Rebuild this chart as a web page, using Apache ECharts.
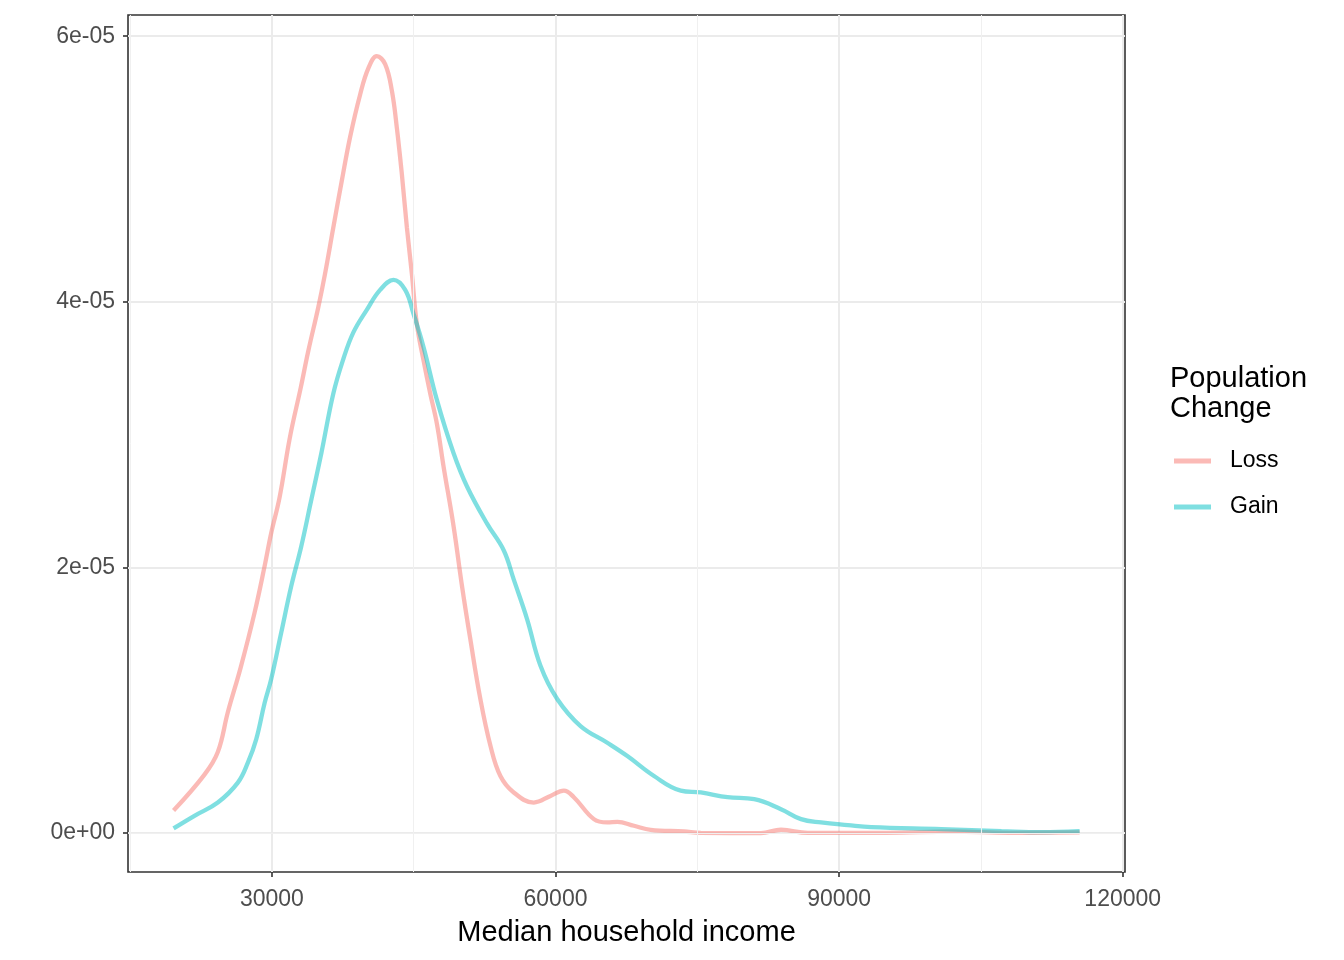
<!DOCTYPE html>
<html>
<head>
<meta charset="utf-8">
<script src="https://cdn.jsdelivr.net/npm/echarts@6/dist/echarts.min.js"></script>
<style>
html,body{margin:0;padding:0;background:#fff;}
#chart{width:1344px;height:960px;}
</style>
</head>
<body>
<div id="chart"></div>
<script>
// Median household income values (x) and density estimates (y)
var lossX = [19600,22870,24280,25340,26710,28170,29230,29930,30820,31906,33070,33850,34910,35620,36500,37390,38270,39330,40210,41100,41980,42690,43220,43750,44280,44810,45340,46040,46750,47460,48160,49220,50110,50990,52050,53110,54170,55580,57700,59470,60880,61940,64060,65480,66540,68300,70070,73570,75370,81730,83850,86680,95000,102000,108000,115440];
var lossY = [1.7e-6,4.4e-6,6.1e-6,9.1e-6,12.5e-6,16.6e-6,20.1e-6,22.6e-6,25.3e-6,29.8e-6,33.6e-6,36.3e-6,39.6e-6,42.1e-6,45.6e-6,49.1e-6,52.4e-6,55.6e-6,57.6e-6,58.5e-6,57.9e-6,55.9e-6,53.1e-6,49.6e-6,45.6e-6,42.1e-6,38.3e-6,35.6e-6,33.1e-6,30.8e-6,27.6e-6,23.1e-6,18.6e-6,14.6e-6,10.1e-6,6.6e-6,4.3e-6,3.06e-6,2.3e-6,2.8e-6,3.2e-6,2.7e-6,1.05e-6,0.8e-6,0.85e-6,0.55e-6,0.25e-6,0.12e-6,0.02e-6,0.0,0.25e-6,0.02e-6,0.02e-6,0.12e-6,0.02e-6,0.05e-6];
var gainX = [19600,21810,24280,26400,27460,28340,29230,29930,30990,32050,33110,34170,35230,36500,37560,38620,40040,41450,42860,44100,44980,46040,47460,49220,50640,52760,54520,55580,57000,58410,60180,62650,65480,67600,70420,73250,75370,78200,81020,83850,85970,88090,90920,93390,100810,107170,111410,115440];
var gainY = [0.35e-6,1.3e-6,2.3e-6,3.8e-6,5.3e-6,7.06e-6,9.8e-6,11.6e-6,15.1e-6,18.6e-6,21.6e-6,25.1e-6,28.6e-6,33.1e-6,35.7e-6,37.7e-6,39.4e-6,40.9e-6,41.65e-6,40.9e-6,39.1e-6,36.6e-6,32.6e-6,28.6e-6,26.1e-6,23.3e-6,21.3e-6,19.1e-6,16.1e-6,12.6e-6,10.1e-6,8.06e-6,6.8e-6,5.8e-6,4.3e-6,3.2e-6,3.06e-6,2.7e-6,2.55e-6,1.8e-6,1.05e-6,0.8e-6,0.6e-6,0.45e-6,0.3e-6,0.15e-6,0.07e-6,0.15e-6];

var xTicks = [30000, 60000, 90000, 120000];
var xTickLabels = ['30000', '60000', '90000', '120000'];
var xMinor = [15000, 45000, 75000, 105000];
var yTicks = [0, 2e-5, 4e-5, 6e-5];
var yTickLabels = ['0e+00', '2e-05', '4e-05', '6e-05'];
var yMinor = [1e-5, 3e-5, 5e-5];

var seriesNames = ['Loss', 'Gain'];
var legendTitle = 'Population\nChange';
var xTitle = 'Median household income';

function pairs(xs, ys) {
  var out = [];
  for (var i = 0; i < xs.length; i++) out.push([xs[i], ys[i]]);
  return out;
}
function labelFor(ticks, labels, v) {
  for (var i = 0; i < ticks.length; i++) {
    if (Math.abs(ticks[i] - v) <= Math.abs(ticks[ticks.length - 1]) * 1e-6) return labels[i];
  }
  return '';
}

var lossColor = 'rgba(248,118,109,0.5)';
var gainColor = 'rgba(0,191,196,0.5)';
var FONT = 'Liberation Sans, Arial, sans-serif';

var minorLines = [];
xMinor.forEach(function (v) { minorLines.push({ xAxis: v }); });
yMinor.forEach(function (v) { minorLines.push({ yAxis: v }); });

var chart = echarts.init(document.getElementById('chart'), null, { renderer: 'canvas' });
chart.setOption({
  animation: false,
  backgroundColor: '#ffffff',
  title: {
    text: legendTitle,
    left: 1170,
    top: 364,
    padding: 0,
    textStyle: { fontFamily: FONT, fontSize: 29, fontWeight: 'normal', color: '#000', lineHeight: 30 }
  },
  legend: {
    orient: 'vertical',
    left: 1174,
    top: 448,
    padding: 0,
    itemWidth: 37,
    itemHeight: 5,
    itemGap: 20,
    icon: 'rect',
    data: seriesNames,
    textStyle: { fontFamily: FONT, fontSize: 23, color: '#000', lineHeight: 26, padding: [0, 0, 0, 14] }
  },
  grid: {
    left: 128, right: 219, top: 15, bottom: 88,
    show: true, borderColor: '#333333', borderWidth: 1.6, backgroundColor: 'transparent',
    containLabel: false
  },
  xAxis: {
    type: 'value',
    min: 14780, max: 120240,
    name: xTitle,
    nameLocation: 'middle',
    nameGap: 46,
    nameTextStyle: { fontFamily: FONT, fontSize: 29, color: '#000' },
    axisLine: { show: false, onZero: false },
    axisTick: { show: true, inside: false, customValues: xTicks, length: 5, lineStyle: { color: '#333', width: 1.6 } },
    axisLabel: {
      customValues: xTicks, margin: 16,
      fontFamily: FONT, fontSize: 23, color: '#4D4D4D',
      formatter: function (v) { return labelFor(xTicks, xTickLabels, v); }
    },
    splitLine: { show: true, lineStyle: { color: '#EBEBEB', width: 2 } }
  },
  yAxis: {
    type: 'value',
    min: -2.93e-6, max: 6.16e-5,
    axisLine: { show: false, onZero: false },
    axisTick: { show: true, inside: false, customValues: yTicks, length: 5, lineStyle: { color: '#333', width: 1.6 } },
    axisLabel: {
      customValues: yTicks, margin: 13,
      fontFamily: FONT, fontSize: 23, color: '#4D4D4D',
      formatter: function (v) { return labelFor(yTicks, yTickLabels, v); }
    },
    splitLine: { show: true, lineStyle: { color: '#EBEBEB', width: 2 } }
  },
  series: [
    {
      name: '__minor',
      type: 'line',
      data: [],
      z: 1,
      silent: true,
      markLine: {
        silent: true,
        symbol: 'none',
        label: { show: false },
        lineStyle: { color: '#F0F0F0', width: 1, type: 'solid' },
        emphasis: { disabled: true },
        data: minorLines
      }
    },
    {
      name: seriesNames[0],
      type: 'line',
      data: pairs(lossX, lossY),
      showSymbol: false,
      smooth: 0.4,
      z: 3,
      itemStyle: { color: lossColor },
      lineStyle: { color: lossColor, width: 4.3 }
    },
    {
      name: seriesNames[1],
      type: 'line',
      data: pairs(gainX, gainY),
      showSymbol: false,
      smooth: 0.4,
      z: 3,
      itemStyle: { color: gainColor },
      lineStyle: { color: gainColor, width: 4.3 }
    }
  ]
});
</script>
</body>
</html>
